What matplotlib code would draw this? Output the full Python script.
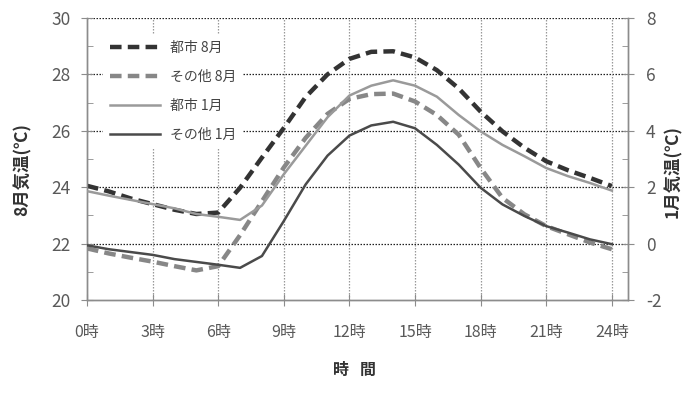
import numpy as np
import matplotlib
matplotlib.use("Agg")
import matplotlib.pyplot as plt
from matplotlib.ticker import MultipleLocator

plt.rcParams['font.family'] = ['Noto Sans CJK JP', 'DejaVu Sans']
plt.rcParams['axes.unicode_minus'] = False

hours = list(range(25))
xtick_values = [0, 3, 6, 9, 12, 15, 18, 21, 24]
xtick_labels = ["0時", "3時", "6時", "9時", "12時", "15時", "18時", "21時", "24時"]

# August temperatures (left axis, °C)
city_aug = [24.05, 23.85, 23.60, 23.40, 23.20, 23.05, 23.10, 23.98, 25.05, 26.10,
            27.20, 28.00, 28.55, 28.80, 28.82, 28.60, 28.15, 27.50, 26.68, 25.98,
            25.40, 24.92, 24.60, 24.33, 24.04]
other_aug = [21.83, 21.65, 21.50, 21.36, 21.20, 21.05, 21.20, 22.30, 23.50, 24.70,
             25.75, 26.60, 27.13, 27.30, 27.32, 27.04, 26.56, 25.86, 24.68, 23.62,
             23.04, 22.62, 22.33, 22.04, 21.80]
# January temperatures (right axis, °C)
city_jan = [1.86, 1.70, 1.55, 1.40, 1.25, 1.05, 0.95, 0.84, 1.35, 2.46,
            3.47, 4.48, 5.25, 5.60, 5.79, 5.60, 5.21, 4.56, 3.98, 3.50,
            3.10, 2.68, 2.39, 2.15, 1.88]
other_jan = [-0.06, -0.20, -0.30, -0.40, -0.55, -0.65, -0.75, -0.86, -0.44, 0.80,
             2.10, 3.12, 3.83, 4.19, 4.32, 4.09, 3.50, 2.80, 1.98, 1.39,
             0.98, 0.62, 0.39, 0.15, -0.02]

labels = ["都市 8月", "その他 8月", "都市 1月", "その他 1月"]

W, H = 693, 409
fig = plt.figure(figsize=(W / 100, H / 100), dpi=100)
ax = fig.add_axes([87 / W, 1 - 300 / H, (628 - 87) / W, (300 - 18) / H])
ax2 = ax.twinx()

tick_color = "#595959"
spine_color = "#8c8c8c"

ax.set_xlim(0, 24.74)
ax.set_ylim(20, 30)
ax2.set_ylim(-2, 8)

# grid
for v in [22, 24, 26, 28, 30]:
    ax.axhline(v, color="#222222", lw=0.9, ls=(0, (1.2, 1.2)), zorder=1)
for h in xtick_values[1:]:
    ax.axvline(h, color="#999999", lw=0.9, ls=(0, (1.2, 1.2)), zorder=1)

l1, = ax.plot(hours, city_aug, color="#333333", lw=3.2, ls=(0, (2.6, 1.4)),
              label=labels[0], zorder=3)
l2, = ax.plot(hours, other_aug, color="#878787", lw=3.2, ls=(0, (2.6, 1.4)),
              label=labels[1], zorder=3)
l3, = ax2.plot(hours, city_jan, color="#9a9a9a", lw=1.8, label=labels[2], zorder=3)
l4, = ax2.plot(hours, other_jan, color="#4a4a4a", lw=1.8, label=labels[3], zorder=3)

for a in (ax, ax2):
    for s in a.spines.values():
        s.set_color(spine_color)
        s.set_linewidth(1.0)
    a.spines['top'].set_visible(False)

ax.set_xticks(xtick_values)
ax.set_xticklabels(xtick_labels)
ax.yaxis.set_major_locator(MultipleLocator(2))
ax.yaxis.set_minor_locator(MultipleLocator(1))
ax2.yaxis.set_major_locator(MultipleLocator(2))
ax2.yaxis.set_minor_locator(MultipleLocator(1))

ax.tick_params(axis='x', direction='inout', length=8, color=spine_color,
               labelcolor=tick_color, labelsize=11.5, pad=13)
ax.tick_params(axis='y', which='major', direction='inout', length=8, color=spine_color,
               labelcolor=tick_color, labelsize=12.5, pad=8)
ax.tick_params(axis='y', which='minor', direction='in', length=4, color=spine_color)
ax2.tick_params(axis='y', which='major', direction='inout', length=8, color=spine_color,
                labelcolor=tick_color, labelsize=12.5, pad=9)
ax2.tick_params(axis='y', which='minor', direction='in', length=4, color=spine_color)

leg = ax2.legend(handles=[l1, l2, l3, l4], loc='upper left',
                 bbox_to_anchor=(0.030, 0.945), borderaxespad=0, frameon=True,
                 fontsize=10, handlelength=3.6, handletextpad=0.7,
                 labelspacing=1.08, borderpad=0.5)
leg.get_frame().set_facecolor("white")
leg.get_frame().set_edgecolor("none")
leg.get_frame().set_alpha(1)
for t in leg.get_texts():
    t.set_color("#444444")

fig.text(22 / W, 1 - 170 / H, "8月気温(℃)", rotation=90, ha='center', va='center',
         fontsize=12.5, fontweight='bold', color="#333333")
fig.text(673 / W, 1 - 172 / H, "1月気温(℃)", rotation=90, ha='center', va='center',
         fontsize=12.5, fontweight='bold', color="#333333")
fig.text(341 / W, 1 - 370 / H, "時", ha='center', va='center',
         fontsize=11.5, fontweight='bold', color="#333333")
fig.text(368 / W, 1 - 370 / H, "間", ha='center', va='center',
         fontsize=11.5, fontweight='bold', color="#333333")

fig.savefig("out.png", dpi=100, facecolor="white")
